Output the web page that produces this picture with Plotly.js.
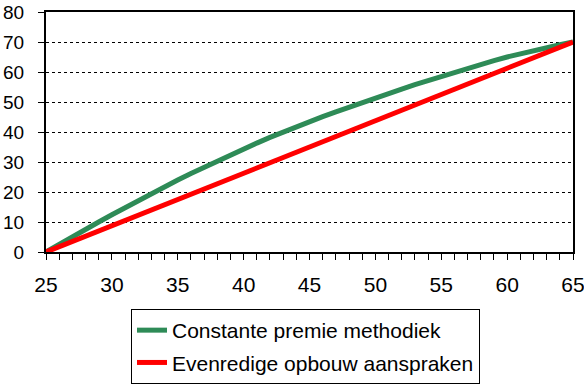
<!DOCTYPE html>
<html>
<head>
<meta charset="utf-8">
<script src="https://cdn.plot.ly/plotly-3.0.1.min.js"></script>
<style>html,body{margin:0;padding:0;background:#fff}#chart{width:584px;height:388px}</style>
</head>
<body>
<div id="chart"></div>
<script>
const ages = [25,26,27,28,29,30,31,32,33,34,35,36,37,38,39,40,41,42,43,44,45,46,47,48,49,50,51,52,53,54,55,56,57,58,59,60,61,62,63,64,65];
const constantePremie = [0,2.6,5.1,7.6,10.0,12.4,14.8,17.2,19.5,21.8,24.0,26.2,28.3,30.4,32.4,34.4,36.3,38.2,40.0,41.8,43.5,45.1,46.7,48.3,49.8,51.3,52.8,54.3,55.8,57.2,58.6,60.0,61.3,62.6,63.8,65.0,66.1,67.2,68.2,69.1,70.0];
const redAges = [25,30,35,40,45,50,55,60,65];
const evenredigeOpbouw = [0,8.8,17.5,26.2,35.0,43.8,52.4,61.2,70.0];
const seriesNames = ["Constante premie methodiek","Evenredige opbouw aanspraken"];
const xTicks = [25,30,35,40,45,50,55,60,65];
const yTicks = [0,10,20,30,40,50,60,70,80];

const font = {family: "Liberation Sans, Arial, sans-serif", color: "#000"};

const traces = [
  {x: ages, y: constantePremie, name: seriesNames[0], mode: "lines", legendgroup: "a",
   line: {color: "rgb(46,139,87)", width: 5}},
  {x: redAges, y: evenredigeOpbouw, name: seriesNames[1], mode: "lines", legendgroup: "b",
   line: {color: "#ff0000", width: 5}}
];

const layout = {
  width: 584, height: 388,
  margin: {l: 46, r: 11, t: 12, b: 136, autoexpand: false},
  paper_bgcolor: "#fff", plot_bgcolor: "#fff",
  font: Object.assign({size: 19}, font),
  showlegend: true,
  legend: {
    xref: "container", yref: "container",
    x: 131/584, xanchor: "left", y: 1 - 309/388, yanchor: "top",
    bordercolor: "#000", borderwidth: 1, bgcolor: "#fff",
    font: Object.assign({size: 21}, font),
    traceorder: "grouped", tracegroupgap: 2
  },
  xaxis: {
    range: [25, 65], tickvals: xTicks, ticktext: xTicks.map(String),
    showline: true, linecolor: "#000", linewidth: 2, mirror: true,
    ticks: "outside", ticklen: 6, tickcolor: "#000", tickwidth: 1,
    minor: {dtick: 1, ticks: "outside", ticklen: 6, tickcolor: "#000", tickwidth: 1, showgrid: false},
    showgrid: false, zeroline: false, automargin: false,
    ticklabeloverflow: "allow",
    tickfont: Object.assign({size: 21}, font), ticklabelstandoff: 7
  },
  yaxis: {
    range: [0, 80], tickvals: yTicks, ticktext: yTicks.map(String),
    showline: true, linecolor: "#000", linewidth: 2, mirror: true,
    ticks: "outside", ticklen: 6, tickcolor: "#000", tickwidth: 1,
    showgrid: true, gridcolor: "#000", gridwidth: 1, griddash: "3px,3px",
    zeroline: false, automargin: false, ticklabeloverflow: "allow",
    tickfont: Object.assign({size: 19}, font), ticklabelstandoff: 10
  }
};

Plotly.newPlot("chart", traces, layout, {staticPlot: true, displayModeBar: false});
</script>
</body>
</html>
